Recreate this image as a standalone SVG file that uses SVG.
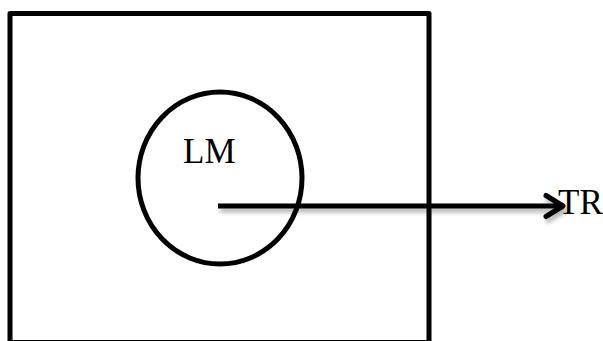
<svg xmlns="http://www.w3.org/2000/svg" width="603" height="341" viewBox="0 0 603 341">
<defs>
<style>
.shape{fill:none;stroke:#000;stroke-width:5}
.lbl{font-family:"Liberation Serif","Times New Roman",serif;font-size:35px;fill:#000}
</style>
<filter id="sh" x="-10%" y="-50%" width="120%" height="300%">
<feGaussianBlur in="SourceAlpha" stdDeviation="2"/>
<feOffset dx="2" dy="4" result="b"/>
<feComponentTransfer><feFuncA type="linear" slope="0.3"/></feComponentTransfer>
<feMerge><feMergeNode/><feMergeNode in="SourceGraphic"/></feMerge>
</filter>
</defs>
<rect width="603" height="341" fill="#fff"/>
<g id="frame"><rect class="shape" x="10" y="13.5" width="419" height="329" stroke-linejoin="round"/></g>
<g id="LM"><ellipse class="shape" cx="220" cy="178" rx="82" ry="86"/><text class="lbl" x="183" y="163">LM</text></g>
<g id="TR"><text class="lbl" x="558" y="214">TR</text></g>
<g id="connectors" filter="url(#sh)">
<line class="shape" x1="218" y1="206" x2="561" y2="206"/>
<polyline class="shape" points="546,195.5 563,206 546,216.5" stroke-linecap="round" stroke-linejoin="round"/>
</g>
</svg>
